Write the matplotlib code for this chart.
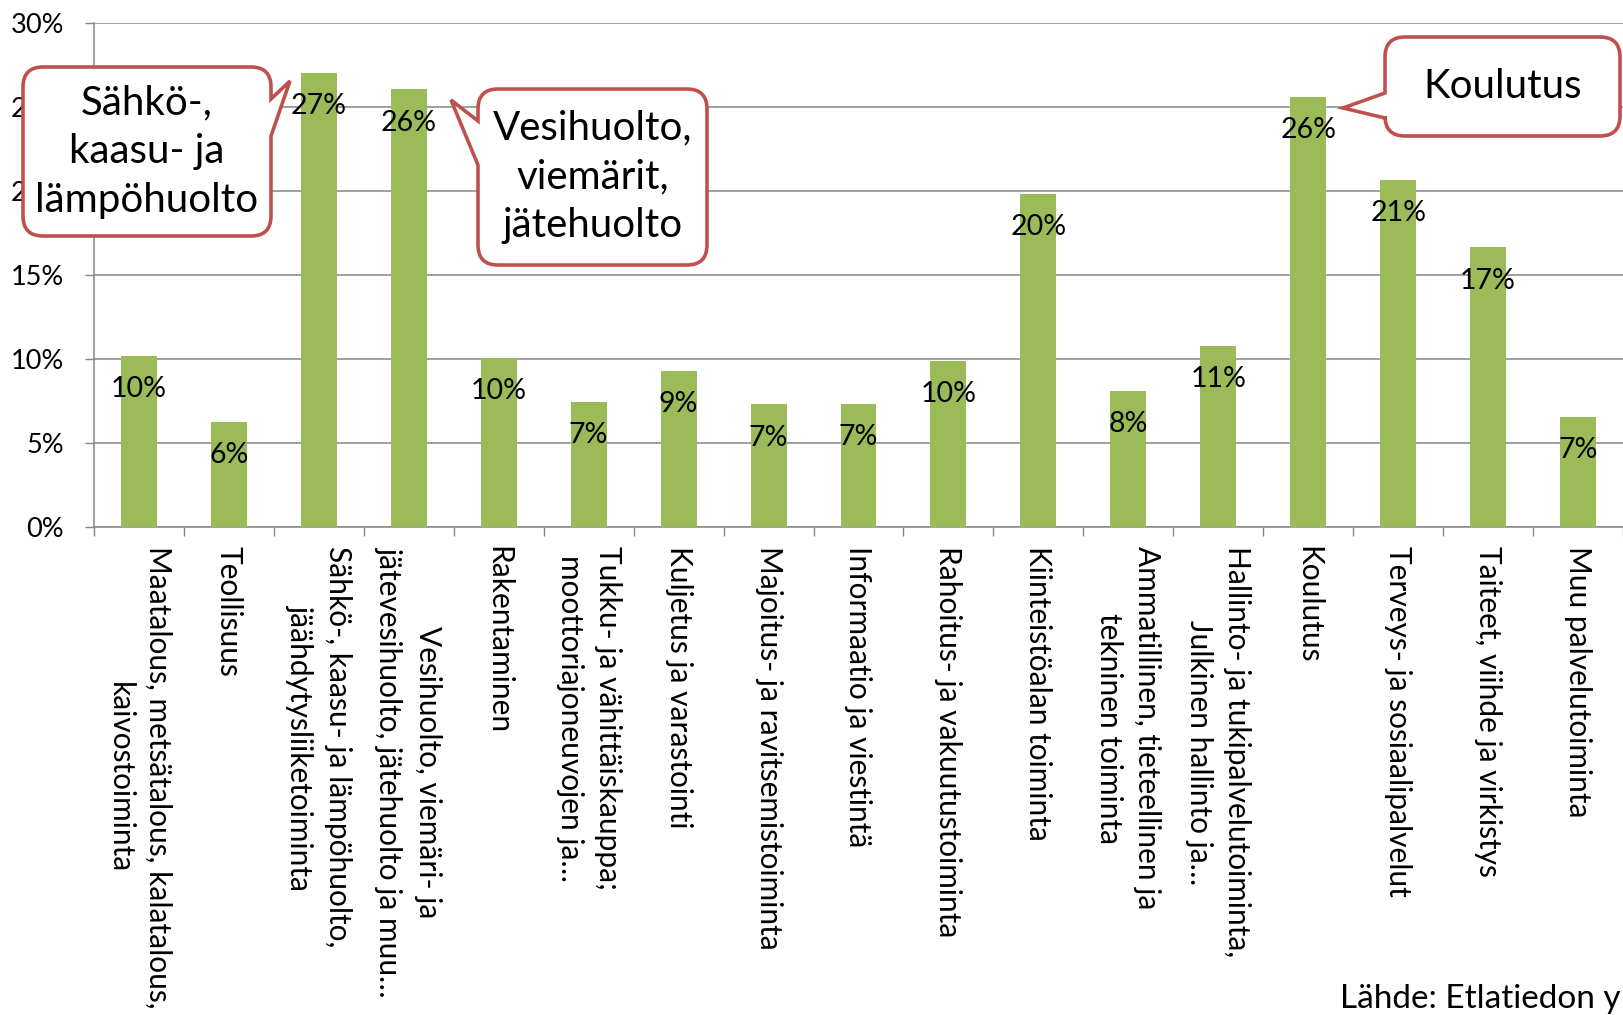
import matplotlib
matplotlib.use('Agg')
import matplotlib.pyplot as plt
import numpy as np
from matplotlib.path import Path
from matplotlib.patches import PathPatch
from matplotlib.transforms import Affine2D

plt.rcParams['font.family'] = ['Lato', 'DejaVu Sans']

# Data (share of firms, %)
categories = [
    'Maatalous, metsätalous, kalatalous,\nkaivostoiminta',
    'Teollisuus',
    'Sähkö-, kaasu- ja lämpöhuolto,\njäähdytysliiketoiminta',
    'Vesihuolto, viemäri- ja\njätevesihuolto, jätehuolto ja muu…',
    'Rakentaminen',
    'Tukku- ja vähittäiskauppa;\nmoottoriajoneuvojen ja…',
    'Kuljetus ja varastointi',
    'Majoitus- ja ravitsemistoiminta',
    'Informaatio ja viestintä',
    'Rahoitus- ja vakuutustoiminta',
    'Kiinteistöalan toiminta',
    'Ammatillinen, tieteellinen ja\ntekninen toiminta',
    'Hallinto- ja tukipalvelutoiminta,\nJulkinen hallinto ja…',
    'Koulutus',
    'Terveys- ja sosiaalipalvelut',
    'Taiteet, viihde ja virkistys',
    'Muu palvelutoiminta',
]
values = [10.2, 6.25, 27.05, 26.05, 10.05, 7.45, 9.3, 7.3, 7.35, 9.9,
          19.85, 8.1, 10.8, 25.6, 20.65, 16.65, 6.55]

callout_texts = ['Sähkö-,\nkaasu- ja\nlämpöhuolto',
                 'Vesihuolto,\nviemärit,\njätehuolto',
                 'Koulutus']
source_text = 'Lähde: Etlatiedon y'

W, H = 1623, 1015
GREEN = '#9BBB59'
GRAY = '#868686'
RED = '#C0504D'

fig = plt.figure(figsize=(W / 100, H / 100), dpi=100)
ax = fig.add_axes([94 / W, 1 - 527 / H, 1 - 94 / W, (527 - 23) / H])

x = np.arange(len(categories))
bars = ax.bar(x, values, width=0.4, color=GREEN, zorder=3)

ax.set_xlim(-0.5, len(categories) - 0.5)
ax.set_ylim(0, 30)
ax.set_yticks(range(0, 31, 5))
ax.yaxis.set_major_formatter(lambda v, p: f'{v:.0f}%')
ax.grid(axis='y', color=GRAY, linewidth=1.1)
ax.set_axisbelow(True)
for s in ['top', 'right']:
    ax.spines[s].set_visible(False)
for s in ['left', 'bottom']:
    ax.spines[s].set_color(GRAY)
    ax.spines[s].set_linewidth(1.1)

# tick marks between categories, labels at category centres
ax.set_xticks(np.arange(-0.5, len(categories)), labels=[])
ax.set_xticks(x, labels=categories, minor=True, rotation=270,
              va='top', ha='center', multialignment='center', linespacing=1.45)
ax.tick_params(axis='x', which='major', length=6.5, width=1, color=GRAY)
ax.tick_params(axis='x', which='minor', length=0, pad=14, labelsize=21.5)
ax.tick_params(axis='y', length=6.5, width=1, color=GRAY, pad=15, labelsize=19.5)

# data labels inside bar ends
for b, v in zip(bars, values):
    ax.annotate(f'{v:.0f}%', (b.get_x() + b.get_width() / 2, v),
                xytext=(0, -24), textcoords='offset points',
                ha='center', va='center', fontsize=20.5, zorder=4)


# callouts drawn in figure pixel coordinates (y down)
pix = Affine2D().scale(1 / W, -1 / H).translate(0, 1) + fig.transFigure


def callout(x0, y0, x1, y1, side, b1, b2, tip, text, r=20):
    v = [(x0 + r, y0), (x1 - r, y0), (x1, y0), (x1, y0 + r)]
    c = [Path.MOVETO, Path.LINETO, Path.CURVE3, Path.CURVE3]
    if side == 'right':
        v += [(x1, b1), tip, (x1, b2)]
        c += [Path.LINETO] * 3
    v += [(x1, y1 - r), (x1, y1), (x1 - r, y1), (x0 + r, y1), (x0, y1), (x0, y1 - r)]
    c += [Path.LINETO, Path.CURVE3, Path.CURVE3, Path.LINETO, Path.CURVE3, Path.CURVE3]
    if side == 'left':
        v += [(x0, b2), tip, (x0, b1)]
        c += [Path.LINETO] * 3
    v += [(x0, y0 + r), (x0, y0), (x0 + r, y0), (x0 + r, y0)]
    c += [Path.LINETO, Path.CURVE3, Path.CURVE3, Path.CLOSEPOLY]
    patch = PathPatch(Path(v, c), facecolor='white', edgecolor=RED,
                      linewidth=2.6, transform=pix, zorder=5)
    fig.add_artist(patch)
    fig.text((x0 + x1) / 2, (y0 + y1) / 2, text, transform=pix, ha='center',
             va='center', fontsize=29, linespacing=1.4, zorder=6)


callout(23, 67, 271, 236, 'right', 99, 136, (290, 81), callout_texts[0])
callout(478, 89, 707, 265, 'left', 121, 165, (451, 100), callout_texts[1])
callout(1385, 37, 1620, 136, 'left', 93, 118, (1343, 108), callout_texts[2])

fig.text(1340 / W, 1 - 999 / H, source_text, fontsize=24, ha='left', va='center')

fig.savefig('out.png', dpi=100)
